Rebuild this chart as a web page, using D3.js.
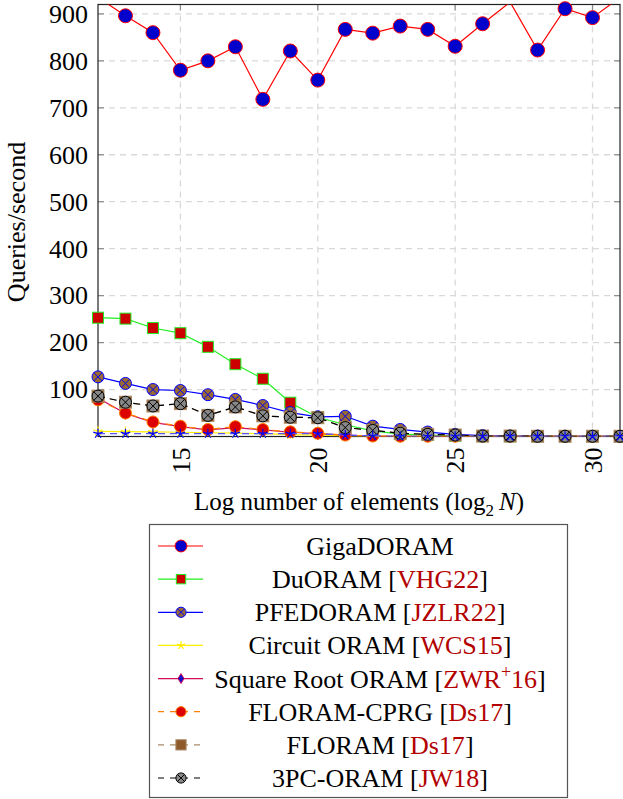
<!DOCTYPE html>
<html>
<head>
<meta charset="utf-8">
<script src="https://cdn.jsdelivr.net/npm/d3@7"></script>
<style>
  body { margin: 0; background: #fff; }
</style>
</head>
<body>
<div id="chart"></div>
<script>
// x values: log2 N
const logN = [12, 13, 14, 15, 16, 17, 18, 19, 20, 21, 22, 23, 24, 25, 26, 27, 28, 29, 30, 31];

// queries per second for each protocol
const gigaDoram   = [935, 896, 860, 780, 800, 830, 718, 821, 759, 867, 859, 874, 867, 831, 879, 925, 823, 911, 892, 935];
const duOram      = [253, 251, 231, 220, 191, 154, 123, 72, 41, 25, 12, 5, 3, 1.5, 0.5, 0.5, 0.5, 0.5, 0.5, 0.5];
const pfeDoram    = [127, 113, 100, 98, 89, 79, 66, 51, 42, 43, 22, 15, 9.5, 4.6, 2, 1, 1, 0.5, 0.5, 0.5];
const circuitOram = [11, 10.5, 10, 9, 8, 7, 6, 4, 3, 1.5, 0.5, 0.5, 0.5, 0.5, 0.5, 0.5, 0.5, 0.5, 0.5, 0.5];
const sqrtOram    = [82, 49, 30, 21, 14, 19, 14, 9, 6, 3, 1, 0.5, 0.5, 0.5, 0.5, 0.5, 0.5, 0.5, 0.5, 0.5];
const floramCprg  = [78, 50, 31, 22, 15, 21, 15, 10, 7, 3, 1, 0.5, 0.5, 0.5, 0.5, 0.5, 0.5, 0.5, 0.5, 0.5];
const floram      = [86, 73, 65, 70, 45, 63, 44, 41, 40, 19, 13, 7, 4.6, 3.2, 1, 1, 0.5, 0.5, 0.5, 0.5];
const threePcOram = [86, 73, 65, 70, 45, 63, 44, 41, 40, 19, 13, 7, 4.6, 3.2, 1, 1, 0.5, 0.5, 0.5, 0.5];
const extraSeries = [6, 6, 6, 6, 6, 6, 6, 6, 6, 3, 1.5, 0.5, 0.5, 0.5, 0.5, 0.5, 0.5, 0.5, 0.5, 0.5];

// tick labels
const xTicks = [15, 20, 25, 30];
const yTicks = [100, 200, 300, 400, 500, 600, 700, 800, 900];

const citeRed = "#b30000";
const serifFont = "'Liberation Serif', 'Times New Roman', Times, 'Nimbus Roman', 'DejaVu Serif', serif";

// series styling (legend: null means no legend entry)
const series = [
  {values: gigaDoram, line: "#ff0000", dash: null, mark: "circle", fill: "#0000cc", stroke: "#ff0000", size: 7,
   label: [["GigaDORAM", "#000"]]},
  {values: duOram, line: "#22ee22", dash: null, mark: "square", fill: "#cc0000", stroke: "#22ee22", size: 5.5,
   label: [["DuORAM [", "#000"], ["VHG22", citeRed], ["]", "#000"]]},
  {values: pfeDoram, line: "#0000ff", dash: null, mark: "otimes", fill: "#9a6a32", stroke: "#0000ff", size: 6,
   label: [["PFEDORAM [", "#000"], ["JZLR22", citeRed], ["]", "#000"]]},
  {values: circuitOram, line: "#ffee00", dash: null, mark: "star", fill: "none", stroke: "#ffee00", size: 5,
   label: [["Circuit ORAM [", "#000"], ["WCS15", citeRed], ["]", "#000"]]},
  {values: sqrtOram, line: "#d0105a", dash: null, mark: "diamond", fill: "#1010cc", stroke: "#d0105a", size: 4.5,
   label: [["Square Root ORAM [", "#000"], ["ZWR", citeRed], ["+", citeRed, true], ["16", citeRed], ["]", "#000"]]},
  {values: floramCprg, line: "#ff8000", dash: "7,5", mark: "circle", fill: "#dd0000", stroke: "#ff8000", size: 6,
   label: [["FLORAM-CPRG [", "#000"], ["Ds17", citeRed], ["]", "#000"]]},
  {values: floram, line: "#a88a6a", dash: "7,5", mark: "square", fill: "#8e5a2a", stroke: "#a88a6a", size: 6,
   label: [["FLORAM [", "#000"], ["Ds17", citeRed], ["]", "#000"]]},
  {values: threePcOram, line: "#000000", dash: "7,5", mark: "otimes", fill: "#888888", stroke: "#000000", size: 6,
   label: [["3PC-ORAM [", "#000"], ["JW18", citeRed], ["]", "#000"]]},
  {values: extraSeries, line: "#5555ff", dash: "7,5", mark: "star", fill: "none", stroke: "#0000ff", size: 5,
   label: null}
];

const W = 623, H = 799;
const plot = {left: 98, right: 620, top: 4.5, bottom: 436.5};

const svg = d3.select("#chart").append("svg")
  .attr("width", W).attr("height", H)
  .attr("font-family", serifFont);

const xScale = d3.scaleLinear().domain([12, 31]).range([plot.left, plot.right]);
const yScale = d3.scaleLinear().domain([0, 920]).range([plot.bottom, plot.top]);

// Grid lines
const grid = svg.append("g")
  .attr("stroke", "#d9d9d9").attr("stroke-width", 1.3).attr("stroke-dasharray", "6,5");
grid.selectAll(".gx").data(xTicks).join("line")
  .attr("x1", d => xScale(d)).attr("x2", d => xScale(d))
  .attr("y1", plot.top).attr("y2", plot.bottom);
grid.selectAll(".gy").data(yTicks).join("line")
  .attr("y1", d => yScale(d)).attr("y2", d => yScale(d))
  .attr("x1", plot.left).attr("x2", plot.right);

// Inner gray tick marks on all four sides
const tickLen = 6;
const ticks = svg.append("g").attr("stroke", "#8c8c8c").attr("stroke-width", 1.2);
yTicks.forEach(v => {
  ticks.append("line").attr("x1", plot.left).attr("x2", plot.left + tickLen)
    .attr("y1", yScale(v)).attr("y2", yScale(v));
  ticks.append("line").attr("x1", plot.right - tickLen).attr("x2", plot.right)
    .attr("y1", yScale(v)).attr("y2", yScale(v));
});
xTicks.forEach(v => {
  ticks.append("line").attr("y1", plot.top).attr("y2", plot.top + tickLen)
    .attr("x1", xScale(v)).attr("x2", xScale(v));
  ticks.append("line").attr("y1", plot.bottom - tickLen).attr("y2", plot.bottom)
    .attr("x1", xScale(v)).attr("x2", xScale(v));
});

// Frame
svg.append("rect")
  .attr("x", plot.left).attr("y", plot.top)
  .attr("width", plot.right - plot.left).attr("height", plot.bottom - plot.top)
  .attr("fill", "none").attr("stroke", "#222").attr("stroke-width", 1.2);

// Clip for lines
svg.append("clipPath").attr("id", "plotClip").append("rect")
  .attr("x", plot.left).attr("y", plot.top)
  .attr("width", plot.right - plot.left).attr("height", plot.bottom - plot.top);

// Marker drawing helper
function drawMarker(g, s, cx, cy, size) {
  const r = size;
  if (s.mark === "circle") {
    g.append("circle").attr("cx", cx).attr("cy", cy).attr("r", r)
      .attr("fill", s.fill).attr("stroke", s.stroke).attr("stroke-width", 1);
  } else if (s.mark === "square") {
    g.append("rect").attr("x", cx - r).attr("y", cy - r).attr("width", 2 * r).attr("height", 2 * r)
      .attr("fill", s.fill).attr("stroke", s.stroke).attr("stroke-width", 1);
  } else if (s.mark === "otimes") {
    g.append("circle").attr("cx", cx).attr("cy", cy).attr("r", r)
      .attr("fill", s.fill).attr("stroke", s.stroke).attr("stroke-width", 1);
    const k = r * 0.707;
    g.append("path")
      .attr("d", `M${cx - k},${cy - k}L${cx + k},${cy + k}M${cx - k},${cy + k}L${cx + k},${cy - k}`)
      .attr("stroke", s.stroke).attr("stroke-width", 1);
  } else if (s.mark === "diamond") {
    g.append("path")
      .attr("d", `M${cx},${cy - r * 1.3}L${cx + r * 0.8},${cy}L${cx},${cy + r * 1.3}L${cx - r * 0.8},${cy}Z`)
      .attr("fill", s.fill).attr("stroke", s.stroke).attr("stroke-width", 1);
  } else if (s.mark === "star") {
    let d = "";
    for (let i = 0; i < 5; i++) {
      const a = (-90 + 72 * i) * Math.PI / 180;
      d += `M${cx},${cy}L${cx + r * Math.cos(a)},${cy + r * Math.sin(a)}`;
    }
    g.append("path").attr("d", d).attr("stroke", s.stroke).attr("stroke-width", 1.2).attr("fill", "none");
  }
}

// Series lines and markers
const lineGen = d3.line().x((d, i) => xScale(logN[i])).y(d => yScale(d));
series.forEach(s => {
  const g = svg.append("g");
  g.append("path")
    .attr("clip-path", "url(#plotClip)")
    .attr("d", lineGen(s.values))
    .attr("fill", "none")
    .attr("stroke", s.line)
    .attr("stroke-width", 1.2)
    .attr("stroke-dasharray", s.dash);
  s.values.forEach((v, i) => {
    if (v <= yScale.domain()[1]) drawMarker(g, s, xScale(logN[i]), yScale(v), s.size);
  });
});

// Y tick labels
svg.append("g").selectAll("text").data(yTicks).join("text")
  .attr("x", plot.left - 10).attr("y", d => yScale(d))
  .attr("dy", "0.34em").attr("text-anchor", "end")
  .attr("font-size", 26).attr("fill", "#000")
  .text(d => d);

// X tick labels (rotated)
svg.append("g").selectAll("text").data(xTicks).join("text")
  .attr("transform", d => `translate(${xScale(d)},${plot.bottom + 11}) rotate(-90)`)
  .attr("dy", "0.35em").attr("text-anchor", "end")
  .attr("font-size", 26).attr("fill", "#000")
  .text(d => d);

// Axis titles
svg.append("text")
  .attr("transform", `translate(25,222) rotate(-90)`)
  .attr("text-anchor", "middle").attr("font-size", 26)
  .text("Queries/second");

const xLab = svg.append("text")
  .attr("x", (plot.left + plot.right) / 2).attr("y", 510)
  .attr("text-anchor", "middle").attr("font-size", 25);
xLab.append("tspan").text("Log number of elements (log");
xLab.append("tspan").attr("font-size", 17).attr("dy", 6).text("2");
xLab.append("tspan").attr("dy", -6).text("\u2009");
xLab.append("tspan").attr("font-style", "italic").text("N");
xLab.append("tspan").text(")");

// Legend
const legend = svg.append("g");
legend.append("rect")
  .attr("x", 149.5).attr("y", 524.5).attr("width", 418).attr("height", 273)
  .attr("fill", "#fff").attr("stroke", "#555").attr("stroke-width", 1.2);

const legendItems = series.filter(s => s.label);
const legendY = d3.scaleLinear().domain([0, legendItems.length - 1]).range([546, 778]);
legendItems.forEach((s, i) => {
  const y = legendY(i);
  const g = legend.append("g");
  g.append("line").attr("x1", 158).attr("x2", 203).attr("y1", y).attr("y2", y)
    .attr("stroke", s.line).attr("stroke-width", 1.2).attr("stroke-dasharray", s.dash ? "6,6" : null);
  drawMarker(g, s, 181, y, s.size * 0.85);
  const t = g.append("text").attr("x", 380).attr("y", y + 9)
    .attr("text-anchor", "middle").attr("font-size", 26);
  s.label.forEach(p => {
    const ts = t.append("tspan").attr("fill", p[1]).text(p[0]);
    if (p[2]) ts.attr("font-size", 18).attr("dy", -10);
    else if (t.node().childNodes.length > 1 && s.label[s.label.indexOf(p) - 1][2]) ts.attr("dy", 10);
  });
});
</script>
</body>
</html>
